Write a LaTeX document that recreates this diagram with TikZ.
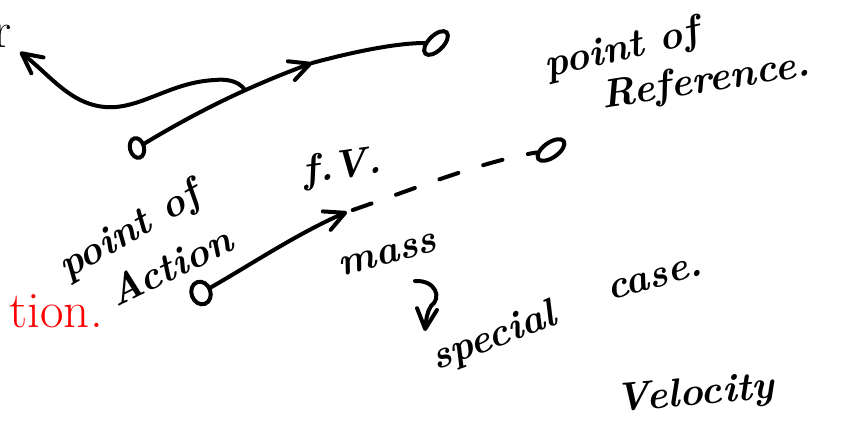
\documentclass[tikz,border=0pt]{standalone}
\usepackage{fontspec}
\usetikzlibrary{shapes.geometric,arrows.meta}
\tikzset{
  ink/.style={line width=4pt, line cap=round, line join=round},
  tip/.style={ink, -{Straight Barb[length=20pt,width=20pt,round]}},
  dot/.style={ellipse, draw, line width=4pt, minimum width=14pt, minimum height=20pt, inner sep=0pt},
  hand/.style={font=\bfseries\itshape\fontsize{40}{44}\selectfont, inner sep=0pt},
  print/.style={font=\fontsize{51}{56}\selectfont, inner sep=0pt, anchor=base east}
}
\begin{document}
\begin{tikzpicture}[x=1pt,y=-1pt]
\useasboundingbox (0,0) rectangle (853,432);
\fill[white] (0,0) rectangle (853,432);

\node[print] (rr) at (12,47) {r};
\node[print, text=red] (tion) at (103,327) {tion.};

\node[dot, rotate=15] (act1) at (137,148) {};
\node[dot, minimum width=30pt, minimum height=15pt, rotate=45] (ref1) at (436,43) {};
\node[dot, minimum width=19pt, minimum height=23pt, rotate=20] (act2) at (201,293) {};
\node[dot, minimum width=31pt, minimum height=15pt, rotate=35] (ref2) at (551,150) {};

\coordinate (mid1) at (312,63);
\coordinate (mid2) at (347,212);
\coordinate (hook) at (245,90);
\coordinate (back) at (20,52);
\coordinate (turn) at (415,281);
\coordinate (down) at (425,331);

\draw[tip] (act1) .. controls (200,110) and (250,86) .. (mid1);
\draw[ink] (mid1) .. controls (360,50) and (400,43) .. (ref1);
\draw[tip] (hook) .. controls (238,80) and (225,79) .. (215,80)
  .. controls (170,82) and (140,110) .. (105,107)
  .. controls (70,104) and (50,75) .. (back);
\draw[tip] (act2) .. controls (250,265) and (300,232) .. (mid2);
\draw[ink, dash pattern=on 20pt off 26pt, dash phase=40pt] (mid2) .. controls (420,187) and (480,162) .. (ref2);
\draw[tip] (turn) .. controls (436,280) and (442,298) .. (431,306)
  .. controls (427,312) and (426,320) .. (down);

\node[hand, rotate=13] (pt1) at (622,50) {point of};
\node[hand, rotate=9] (refer) at (706,82) {Reference.};
\node[hand, rotate=8] (fv) at (342,168) {f.V.};
\node[hand, rotate=30] (pt2) at (130,232) {point of};
\node[hand, rotate=26] (action) at (170,266) {Action};
\node[hand, rotate=15] (mass) at (388,255) {mass};
\node[hand, rotate=21] (spec) at (494,338) {special};
\node[hand, rotate=16] (case) at (655,279) {case.};
\node[hand, rotate=5] (velo) at (695,395) {Velocity};
\end{tikzpicture}
\end{document}
